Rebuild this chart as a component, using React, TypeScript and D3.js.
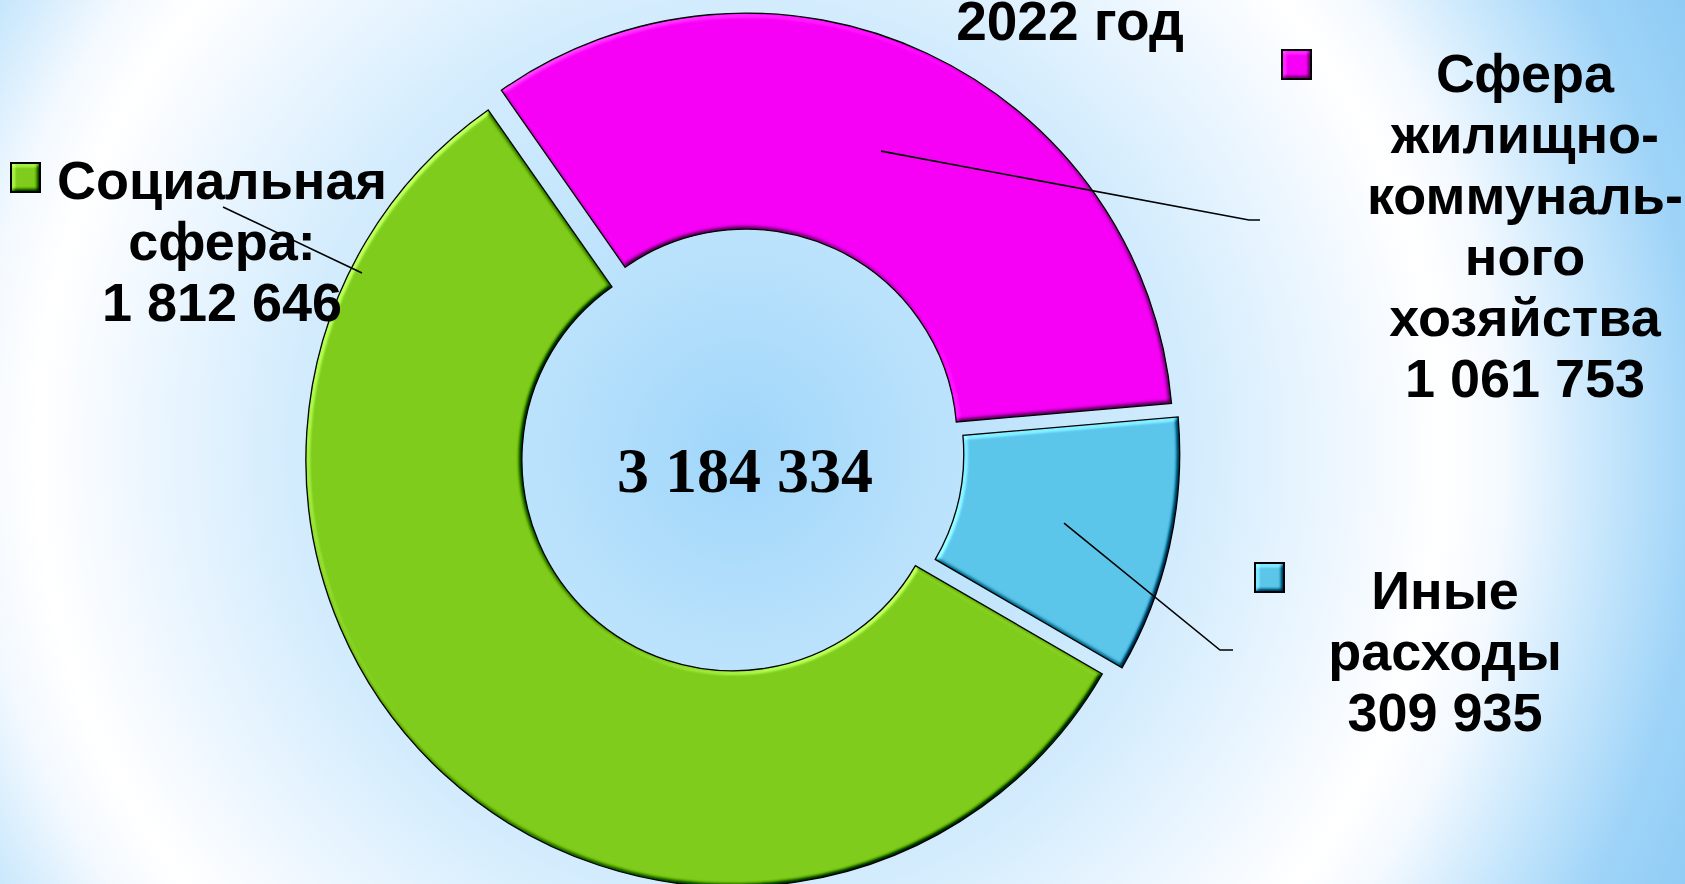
import * as d3 from "d3";
import React from "react";

// data (тыс. руб.)
const title = "2022 год";
const categories = ["Социальная сфера", "Сфера жилищно-коммунального хозяйства", "Иные расходы"];
const values = [1812646, 1061753, 309935];
const labelLines = [
  ["Социальная", "сфера:"],
  ["Сфера", "жилищно-", "коммуналь-", "ного", "хозяйства"],
  ["Иные", "расходы"],
];
const colors = ["#7fcc1c", "#f600f6", "#5bc6ea"];

// layout
const W = 1685, H = 884;
const cx = 741, cy = 451;
const innerR = 211, outerR = 427;
const explode = 12;
const startDeg = 120.1;
const lineH = 61;
const fontSans = "'Liberation Sans', Arial, sans-serif";
const labelPos = [
  { x: 222, y: 199, key: [11, 163] },
  { x: 1525, y: 92, key: [1282, 50] },
  { x: 1445, y: 609, key: [1255, 563] },
];
// leader lines: point on slice (null = slice centroid), elbow near label, short horizontal tail
const leaders = [
  { touch: [362, 273], elbow: [223, 207], tail: 0 },
  { touch: null, elbow: [1249, 220], tail: 11 },
  { touch: null, elbow: [1220, 650], tail: 13 },
];

const fmt = (v: number) => d3.format(",")(v).replace(/,/g, " ");

export default function App() {
  const rad = (d: number) => (d * Math.PI) / 180;
  const pie = d3
    .pie<number>()
    .sort(null)
    .value((d) => d)
    .startAngle(rad(startDeg))
    .endAngle(rad(startDeg + 360));
  const arcs = pie(values);
  const arc = d3.arc<d3.PieArcDatum<number>>().innerRadius(innerR).outerRadius(outerR);
  const total = d3.sum(values);

  const offset = (a: d3.PieArcDatum<number>) => {
    const mid = (a.startAngle + a.endAngle) / 2;
    return [explode * Math.sin(mid), -explode * Math.cos(mid)];
  };

  return (
    <svg
      width={W}
      height={H}
      style={{ position: "absolute", left: 0, top: 0, display: "block" }}
    >
      <defs>
        <radialGradient id="bg" gradientUnits="userSpaceOnUse" cx={cx} cy={cy} r={1050}>
          <stop offset="0" stopColor="#9fd6fa" />
          <stop offset="0.2" stopColor="#bbe2fc" />
          <stop offset="0.43" stopColor="#d3ecfd" />
          <stop offset="0.6" stopColor="#f3f9ff" />
          <stop offset="0.67" stopColor="#ffffff" />
          <stop offset="0.73" stopColor="#f3f9ff" />
          <stop offset="0.82" stopColor="#c8e7fc" />
          <stop offset="0.91" stopColor="#9fd4f8" />
          <stop offset="1" stopColor="#8ecbf5" />
        </radialGradient>
        <filter id="bevel" x="-5%" y="-5%" width="110%" height="110%" colorInterpolationFilters="sRGB">
          <feGaussianBlur in="SourceAlpha" stdDeviation="2.2" result="blur" />
          <feDiffuseLighting in="blur" surfaceScale="3.5" diffuseConstant="1" lightingColor="#ffffff" result="light">
            <feDistantLight azimuth="225" elevation="45" />
          </feDiffuseLighting>
          <feComposite in="SourceGraphic" in2="light" operator="arithmetic" k1="0" k2="1" k3="0.9" k4="-0.636" result="lit" />
          <feComposite in="lit" in2="SourceAlpha" operator="in" />
        </filter>
      </defs>

      <rect x={0} y={0} width={W} height={H} fill="url(#bg)" />

      {/* slices */}
      {arcs.map((a, i) => {
        const [dx, dy] = offset(a);
        return (
          <g key={categories[i]} transform={`translate(${cx + dx},${cy + dy})`}>
            <path d={arc(a) || ""} fill={colors[i]} filter="url(#bevel)" />
            <path d={arc(a) || ""} fill="none" stroke="#000" strokeWidth={1.3} />
          </g>
        );
      })}

      {/* leader lines */}
      {arcs.map((a, i) => {
        const ld = leaders[i];
        const [dx, dy] = offset(a);
        const c = arc.centroid(a);
        const touch = ld.touch || [cx + dx + c[0], cy + dy + c[1]];
        const pts: [number, number][] = [
          [touch[0], touch[1]],
          [ld.elbow[0], ld.elbow[1]],
          [ld.elbow[0] + ld.tail, ld.elbow[1]],
        ];
        return (
          <path
            key={"l" + i}
            d={d3.line()(pts) || ""}
            fill="none"
            stroke="#000"
            strokeWidth={1.6}
          />
        );
      })}

      {/* labels with legend keys */}
      {values.map((v, i) => {
        const p = labelPos[i];
        const lines = [...labelLines[i], fmt(v)];
        return (
          <g key={"t" + i}>
            <rect
              x={p.key[0]}
              y={p.key[1]}
              width={29}
              height={29}
              fill={colors[i]}
              filter="url(#bevel)"
            />
            <rect
              x={p.key[0]}
              y={p.key[1]}
              width={29}
              height={29}
              fill="none"
              stroke="#000"
              strokeWidth={2}
            />
            <text
              fontFamily={fontSans}
              fontWeight="bold"
              fontSize={54}
              textAnchor="middle"
              fill="#000"
            >
              {lines.map((s, j) => (
                <tspan key={j} x={p.x} y={p.y + j * lineH}>
                  {s}
                </tspan>
              ))}
            </text>
          </g>
        );
      })}

      {/* total in the hole */}
      <text
        x={745}
        y={492}
        fontFamily="'Liberation Serif', 'Times New Roman', serif"
        fontWeight="bold"
        fontSize={64}
        textAnchor="middle"
        fill="#000"
      >
        {fmt(total)}
      </text>

      {/* title */}
      <text
        x={1070}
        y={40}
        fontFamily={fontSans}
        fontWeight="bold"
        fontSize={55}
        textAnchor="middle"
        fill="#000"
      >
        {title}
      </text>
    </svg>
  );
}
